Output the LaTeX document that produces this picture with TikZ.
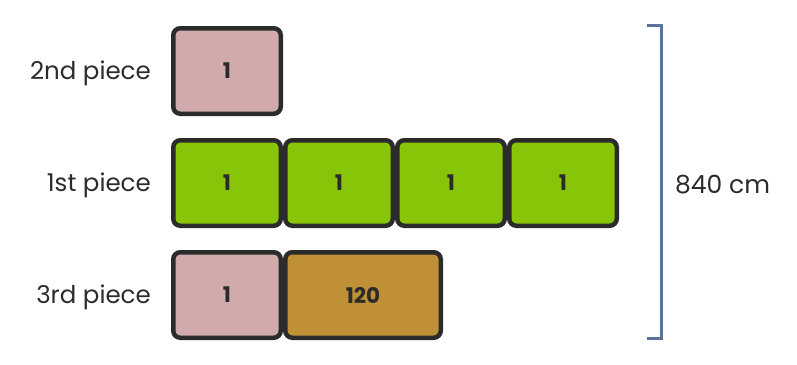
\documentclass[tikz,border=0pt]{standalone}
\usepackage{fontspec}
\setmainfont{Poppins}
\definecolor{pinkbox}{HTML}{D1ABAB}
\definecolor{greenbox}{HTML}{88C408}
\definecolor{brownbox}{HTML}{C09036}
\definecolor{edge}{HTML}{2B2B2B}
\definecolor{brk}{HTML}{5B7394}
\definecolor{txt}{HTML}{2B2B2B}
\begin{document}
\begin{tikzpicture}[x=1pt,y=-1pt,
  piece/.style={draw=edge, line width=4.5pt, rounded corners=7pt, minimum width=107.5pt, minimum height=85.5pt, inner sep=0pt, outer sep=0pt, text=txt, font=\fontsize{21.5}{24}\selectfont\bfseries},
  rowlabel/.style={anchor=east, text=txt, font=\fontsize{24.5}{27}\selectfont, inner sep=0pt},
  bracketline/.style={draw=brk, line width=3pt}]
\useasboundingbox (0,0) rectangle (797,364);
\node[rowlabel] (l2) at (151,73) {2nd piece};
\node[rowlabel] (l1) at (151,185) {1st piece};
\node[rowlabel] (l3) at (151,297) {3rd piece};
\node[piece, fill=pinkbox] (a1) at (227,71) {1};
\node[piece, fill=greenbox] (b1) at (227,183) {1};
\node[piece, fill=greenbox] (b2) at (339,183) {1};
\node[piece, fill=greenbox] (b3) at (451,183) {1};
\node[piece, fill=greenbox] (b4) at (563,183) {1};
\node[piece, fill=pinkbox] (c1) at (227,295) {1};
\node[piece, fill=brownbox, minimum width=155.5pt] (c2) at (363,295) {120};
\coordinate (t0) at (647,25);
\coordinate (t1) at (661,25);
\coordinate (u1) at (661,338);
\coordinate (u0) at (647,338);
\draw[bracketline] (t0) -- (t1) -- (u1) -- (u0);
\node[anchor=west, text=txt, font=\fontsize{25}{28}\selectfont, inner sep=0pt] (len) at (675,185) {840 cm};
\end{tikzpicture}
\end{document}
